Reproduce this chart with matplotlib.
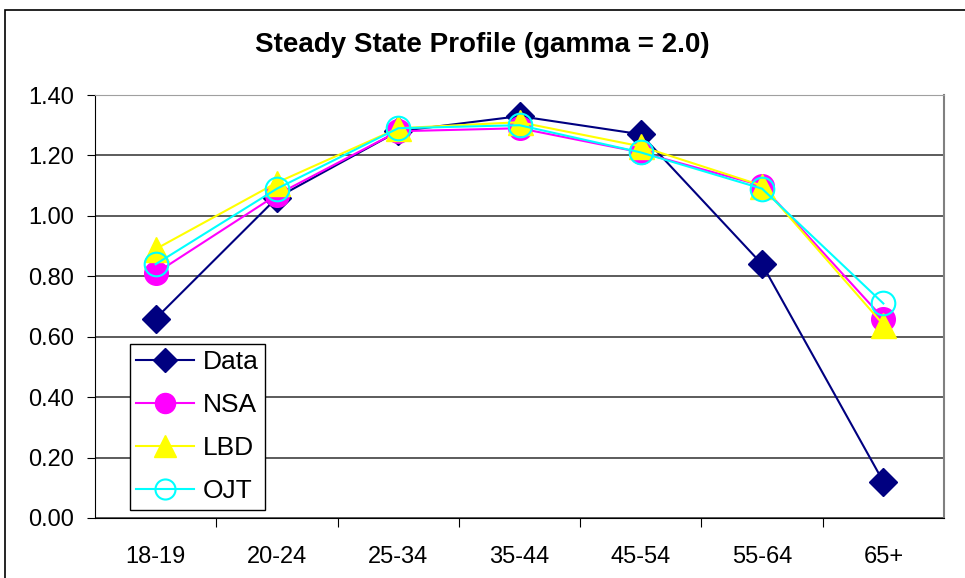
import matplotlib.pyplot as plt
from matplotlib.patches import Rectangle

plt.rcParams['font.family'] = ['Liberation Sans', 'DejaVu Sans']

ages = ['18-19', '20-24', '25-34', '35-44', '45-54', '55-64', '65+']
data = [0.66, 1.06, 1.28, 1.33, 1.27, 0.84, 0.12]
nsa = [0.81, 1.07, 1.28, 1.29, 1.21, 1.10, 0.66]
lbd = [0.89, 1.11, 1.29, 1.31, 1.23, 1.10, 0.64]
ojt = [0.84, 1.09, 1.29, 1.30, 1.21, 1.09, 0.71]

fig = plt.figure(figsize=(9.65, 5.78), dpi=100)
# outer chart frame (runs off the right and bottom edges)
fig.patches.append(Rectangle((5 / 965, -0.1), 1.2, 1 - 10 / 578 + 0.1,
                             transform=fig.transFigure, fill=False,
                             edgecolor='black', linewidth=1.2))

ax = fig.add_axes([95 / 965, 1 - 518 / 578, 849 / 965, 423 / 578])
x = list(range(len(ages)))

ax.plot(x, data, color='#000080', marker='D', markersize=14, linewidth=1.5,
        label='Data', zorder=3)
ax.plot(x, nsa, color='#ff00ff', marker='o', markersize=17, linewidth=1.5,
        label='NSA', zorder=4)
ax.plot(x, lbd, color='#ffff00', marker='^', markersize=18, linewidth=1.5,
        label='LBD', zorder=5)
ax.plot(x, ojt, color='#00ffff', marker='o', markersize=17, linewidth=1.5,
        markerfacecolor='none', markeredgewidth=1.5, label='OJT', zorder=6)

ax.set_xlim(-0.5, len(ages) - 0.5)
ax.set_ylim(0, 1.4)
ax.set_yticks([i * 0.2 for i in range(8)])
ax.set_yticklabels(['%.2f' % (i * 0.2) for i in range(8)], fontsize=17)
ax.set_xticks([i + 0.5 for i in range(len(ages) - 1)])
ax.set_xticklabels([])
ax.set_xticks(x, minor=True)
ax.set_xticklabels(ages, minor=True, fontsize=17)
ax.tick_params(axis='x', which='minor', length=0, pad=20)
ax.tick_params(axis='x', which='major', length=6.5, direction='out', color='black')
ax.tick_params(axis='y', length=6, direction='out', pad=9)

ax.grid(axis='y', color='#404040', linewidth=1.2)
ax.set_axisbelow(True)
ax.spines['left'].set_color('black')
ax.spines['bottom'].set_color('black')
ax.spines['top'].set_color('#a0a0a0')
ax.spines['right'].set_color('#808080')
ax.spines['right'].set_linewidth(1.5)

fig.text(0.5, 1 - 45 / 578, 'Steady State Profile (gamma = 2.0)', ha='center',
         va='center', fontsize=20, fontweight='bold')

leg = ax.legend(loc='lower left', bbox_to_anchor=(0.041, 0.019), fontsize=19,
                frameon=True, fancybox=False, framealpha=1, edgecolor='black',
                borderpad=0.25, labelspacing=0.72, handlelength=2.2,
                handletextpad=0.3, borderaxespad=0, markerscale=0.85)
leg.get_frame().set_linewidth(1.0)

fig.savefig('out.png', dpi=100)
